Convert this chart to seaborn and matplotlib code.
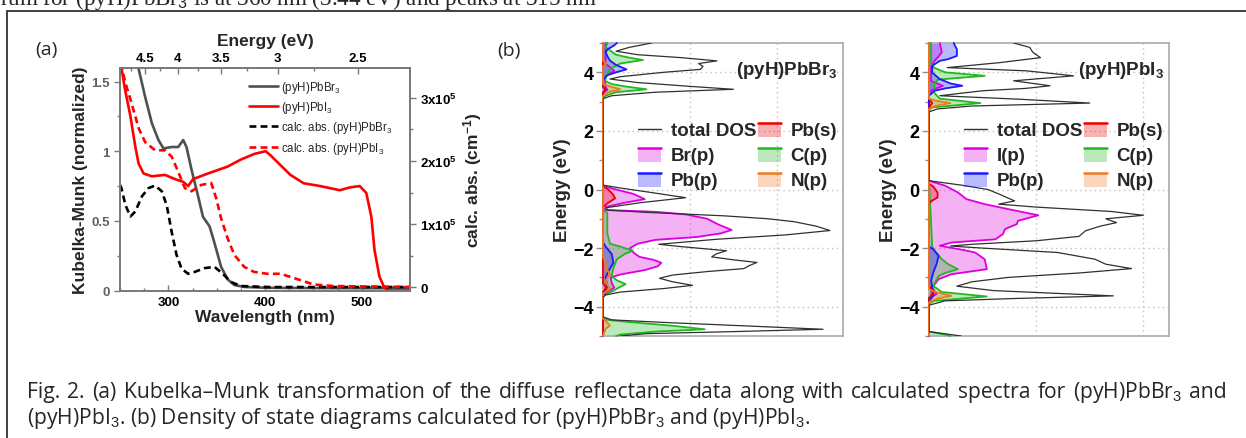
import matplotlib
matplotlib.use("Agg")
import matplotlib.pyplot as plt
import seaborn as sns
from matplotlib.lines import Line2D
from matplotlib.patches import Patch, Rectangle
from matplotlib.legend_handler import HandlerBase
from matplotlib.ticker import MultipleLocator, FixedLocator

# ---------------- panel (a) data ----------------
km_wl_br = [264, 269.3, 276, 283, 289.8, 294.9, 303.4, 310.2, 315.4, 318.8, 323.9, 330.7, 335.8,
            342.7, 347.8, 354.6, 361.4, 368.3, 378.5, 402, 450, 500, 549]
km_br = [1.75, 1.59, 1.39, 1.20, 1.08, 1.02, 1.03, 1.03, 1.08, 1.03, 0.87, 0.68, 0.53,
         0.46, 0.34, 0.17, 0.08, 0.04, 0.026, 0.02, 0.018, 0.017, 0.017]

km_wl_i = [250, 251.5, 255, 260.8, 265.9, 269.3, 274.4, 283, 296.6, 306.8, 315.4, 320.5, 325.6,
           341, 361.4, 375, 388.7, 400.6, 405.8, 416, 426.3, 440, 457, 477.5, 487.7, 498,
           504.8, 510, 513.3, 518.4, 523.5, 528.7, 549]
km_i = [1.65, 1.6, 1.45, 1.25, 1.03, 0.91, 0.84, 0.82, 0.83, 0.80, 0.78, 0.75, 0.80,
        0.84, 0.89, 0.94, 0.98, 1.0, 0.97, 0.90, 0.83, 0.77, 0.75, 0.72, 0.74, 0.75,
        0.70, 0.53, 0.29, 0.10, 0.02, 0.0, 0.0]

calc_wl_br = [250, 251.5, 255.6, 260.8, 265.9, 272.7, 279.5, 286.3, 293.2, 298.3, 303.4, 308.5,
              313.7, 320.5, 327.3, 337.5, 347.8, 356.3, 364.8, 375, 402, 549]
calc_br = [1.62e5, 1.57e5, 1.30e5, 1.12e5, 1.20e5, 1.44e5, 1.57e5, 1.61e5, 1.52e5, 1.30e5, 0.88e5,
           0.51e5, 0.29e5, 0.21e5, 0.24e5, 0.30e5, 0.32e5, 0.21e5, 0.08e5, 0.016e5, 0, 0]

calc_wl_i = [250, 252.2, 255.6, 262.5, 269.3, 276, 286.3, 296.6, 303.4, 310.2, 317.1, 324, 334,
             344.4, 349.5, 354.6, 361.4, 368.3, 378.5, 388.7, 402.4, 416, 426.3, 436.5, 450.2,
             470.6, 549]
calc_i = [3.55e5, 3.46e5, 3.24e5, 2.89e5, 2.52e5, 2.30e5, 2.17e5, 2.17e5, 2.07e5, 1.83e5, 1.57e5,
          1.52e5, 1.62e5, 1.65e5, 1.41e5, 1.09e5, 0.77e5, 0.51e5, 0.32e5, 0.24e5, 0.21e5, 0.21e5,
          0.16e5, 0.11e5, 0.04e5, 0.016e5, 0]

top_ev = [4.5, 4.0, 3.5, 3.0, 2.5]
top_ev_labels = ["4.5", "4", "3.5", "3", "2.5"]
top_ev_minor = [4.75, 4.25, 3.75, 3.25, 2.75, 2.25]
right_ticks = [0, 1e5, 2e5, 3e5]
right_labels = ["0", r"1x10$^{\mathbf{5}}$", r"2x10$^{\mathbf{5}}$", r"3x10$^{\mathbf{5}}$"]
legend_a = [r"(pyH)PbBr$_3$", r"(pyH)PbI$_3$", r"calc. abs. (pyH)PbBr$_3$", r"calc. abs. (pyH)PbI$_3$"]

# ---------------- panel (b) data: (pyH)PbBr3 DOS ----------------
br_tot_E = [5.0, 4.85, 4.72, 4.6, 4.5, 4.39, 4.3, 4.2, 4.1, 4.0, 3.85, 3.77, 3.65, 3.52, 3.42, 3.32,
            3.2, 3.1, 0.15, 0.05, -0.1, -0.28, -0.45, -0.62, -0.7, -0.78, -0.9, -1.0, -1.1, -1.25,
            -1.4, -1.55, -1.7, -1.87, -1.95, -2.09, -2.2, -2.3, -2.4, -2.49, -2.6, -2.7, -2.8,
            -2.92, -3.03, -3.15, -3.27, -3.38, -3.5, -3.6, -3.68, -4.35, -4.45, -4.55, -4.65,
            -4.77, -4.85, -4.92, -5.0]
br_tot = [5.6, 3.0, 1.5, 4.0, 9.0, 13.1, 11.0, 11.5, 11.2, 7.0, 2.0, 0.8, 4.0, 10.0, 15.0, 6.0,
          1.0, 0.0, 0.0, 2.0, 5.5, 9.5, 4.3, 0.4, 0.5, 5.0, 14.0, 19.0, 22.0, 24.5,
          26.1, 21.0, 13.0, 6.4, 9.0, 14.2, 13.0, 12.5, 15.0, 17.7, 16.8, 16.2, 12.0,
          8.0, 6.5, 8.0, 10.3, 7.0, 2.0, 0.3, 0.0, 0.0, 1.0, 8.0, 16.0,
          25.3, 15.0, 5.0, 2.0]
br_x_E = [5.0, 4.3, 4.2, 4.05, 3.9, 3.8, 3.5, 3.4, 3.3, 0.12, 0.0, -0.15, -0.33, -0.45, -0.6,
          -0.7, -0.76, -0.85, -1.0, -1.2, -1.38, -1.5, -1.62, -1.72, -1.85, -2.0, -2.15, -2.3,
          -2.4, -2.5, -2.62, -2.75, -2.9, -3.0, -3.2, -3.35, -3.5, -3.62, -5.0]
br_x = [0.3, 0.3, 0.7, 1.3, 0.5, 0.2, 0.3, 0.5, 0.0, 0.0, 1.5, 3.5, 4.8, 2.5, 0.3,
        0.2, 6.0, 9.5, 12.0, 13.3, 14.8, 13.5, 10.8, 6.0, 4.0, 3.1, 3.5, 4.2,
        5.8, 6.7, 6.3, 4.8, 2.0, 0.9, 1.0, 1.3, 0.5, 0.0, 0.0]
br_pbs_E = [5.0, 3.5, 3.42, 3.3, 0.12, 0.0, -0.15, -0.3, -0.45, -0.6, -3.2, -3.35, -3.5, -5.0]
br_pbs = [0.0, 0.0, 0.3, 0.0, 0.0, 0.6, 1.1, 1.4, 0.6, 0.0, 0.0, 0.4, 0.0, 0.0]
br_c_E = [5.0, 4.85, 4.75, 4.6, 4.5, 4.42, 4.3, 4.15, 4.0, 3.85, 3.7, 3.6, 3.52, 3.42, 3.32, 3.2,
          3.1, 0.1, -0.7, -0.8, -1.5, -1.85, -1.95, -2.09, -2.2, -2.38, -2.6, -2.8, -2.95, -3.1,
          -3.23, -3.35, -3.46, -3.62, -4.35, -4.45, -4.55, -4.65, -4.77, -4.85, -4.95, -5.0]
br_c = [0.5, 0.3, 0.8, 1.5, 3.0, 4.6, 2.0, 1.0, 0.6, 0.3, 0.3, 1.0, 2.5, 5.0, 1.5, 0.3,
        0.0, 0.0, 0.0, 0.5, 0.5, 0.8, 2.0, 3.4, 2.5, 1.6, 1.3, 1.1, 1.0, 1.6,
        2.6, 1.8, 1.2, 0.0, 0.0, 0.5, 4.0, 8.0, 11.7, 6.0, 2.0, 1.5]
br_pbp_E = [5.0, 4.9, 4.8, 4.7, 4.55, 4.4, 4.25, 4.1, 4.0, 3.9, 3.75, 3.5, 3.4, 3.3, -1.8, -1.95,
            -2.2, -2.5, -2.8, -3.0, -3.3, -3.5, -3.65, -5.0]
br_pbp = [1.6, 1.2, 0.6, 0.3, 0.5, 0.8, 1.5, 2.7, 1.5, 0.5, 0.0, 0.0, 0.3, 0.0, 0.0, 0.3,
          1.0, 1.2, 0.6, 0.3, 0.5, 0.2, 0.0, 0.0]
br_n_E = [5.0, 4.4, 4.3, 4.2, 3.6, 3.52, 3.42, 3.32, 3.2, -2.3, -2.5, -2.7, -2.9, -3.1, -3.25,
          -3.4, -3.55, -4.4, -4.55, -4.65, -4.75, -5.0]
br_n = [0.0, 0.0, 0.4, 0.0, 0.0, 0.8, 2.0, 0.6, 0.0, 0.0, 0.3, 0.4, 0.8, 0.3, 0.5,
        0.8, 0.0, 0.0, 0.5, 0.8, 0.3, 0.0]

# ---------------- panel (b) data: (pyH)PbI3 DOS ----------------
i_tot_E = [5.0, 4.85, 4.68, 4.5, 4.33, 4.16, 4.05, 3.88, 3.71, 3.54, 3.45, 3.37, 3.2, 3.08, 2.95,
           2.85, 2.75, 2.65, 0.3, 0.15, 0.0, -0.15, -0.39, -0.5, -0.6, -0.75, -0.88, -1.0, -1.13,
           -1.25, -1.41, -1.6, -1.75, -1.87, -1.93, -2.0, -2.15, -2.38, -2.55, -2.7, -2.85, -3.0,
           -3.15, -3.3, -3.45, -3.63, -3.72, -3.8, -3.95, -4.85, -5.0]
i_tot = [7.9, 9.4, 9.7, 10.4, 6.6, 1.7, 9.1, 13.5, 7.9, 11.3, 9.0, 5.0, 1.0, 8.5, 15.0,
         4.0, 0.8, 0.0, 0.0, 3.0, 5.5, 6.5, 8.0, 6.5, 10.0, 17.0, 20.0, 16.5, 17.5,
         16.0, 14.6, 14.0, 10.0, 4.0, 2.0, 5.0, 12.0, 15.5, 16.5, 18.9, 14.0, 7.4,
         4.0, 2.6, 6.0, 17.2, 8.0, 1.5, 0.0, 0.0, 3.0]
i_x_E = [5.0, 4.85, 4.68, 4.5, 4.39, 4.2, 3.7, 3.54, 3.4, 3.3, 0.3, 0.13, -0.1, -0.33, -0.5,
         -0.67, -0.88, -1.07, -1.18, -1.35, -1.52, -1.7, -1.81, -1.92, -2.05, -2.15, -2.38,
         -2.55, -2.72, -2.89, -3.06, -3.34, -3.57, -3.7, -5.0]
i_x = [1.0, 1.1, 1.2, 0.8, 0.5, 0.2, 0.2, 1.3, 0.3, 0.0, 0.0, 1.5, 2.7, 3.5, 5.2,
       7.4, 10.2, 8.3, 8.2, 7.1, 6.9, 6.2, 2.1, 1.0, 3.0, 4.3, 5.2,
       5.3, 5.4, 2.1, 0.9, 0.3, 0.7, 0.0, 0.0]
i_pbs_E = [5.0, 3.1, 2.95, 2.8, 0.2, 0.1, -0.1, -0.27, -0.4, -0.5, -3.3, -3.5, -3.7, -5.0]
i_pbs = [0.0, 0.0, 0.3, 0.0, 0.0, 0.4, 0.8, 0.8, 0.2, 0.0, 0.0, 0.5, 0.0, 0.0]
i_c_E = [5.0, 4.3, 4.15, 4.0, 3.88, 3.75, 3.6, 3.3, 3.1, 2.95, 2.8, 2.7, 0.3, -1.95, -2.09, -2.38,
         -2.55, -2.72, -2.85, -2.95, -3.29, -3.5, -3.65, -3.8, -3.9, -4.85, -4.95, -5.0]
i_c = [0.2, 0.2, 0.5, 1.5, 5.2, 0.8, 0.5, 0.5, 1.0, 4.8, 0.3, 0.0, 0.0, 0.3, 0.5, 1.2,
       1.8, 2.7, 1.5, 0.9, 0.4, 1.2, 5.4, 0.5, 0.0, 0.0, 1.5, 2.0]
i_pbp_E = [5.0, 4.79, 4.56, 4.45, 4.39, 4.22, 3.99, 3.77, 3.62, 3.54, 3.45, 3.37, 3.2, -1.95,
           -2.04, -2.26, -2.55, -2.83, -3.1, -3.63, -3.8, -5.0]
i_pbp = [2.3, 2.6, 2.6, 1.8, 1.0, 0.3, 0.3, 1.0, 2.0, 3.1, 1.5, 0.5, 0.0, 0.0,
         0.4, 0.9, 0.7, 0.4, 0.2, 0.4, 0.0, 0.0]
i_n_E = [5.0, 3.1, 3.02, 2.95, 2.85, 2.75, -3.4, -3.5, -3.63, -3.72, -3.85, -5.0]
i_n = [0.0, 0.0, 0.8, 2.0, 0.6, 0.0, 0.0, 0.6, 2.1, 0.8, 0.0, 0.0]

dos_ticks = [-4, -2, 0, 2, 4]

caption_1 = (r"Fig. 2. (a) Kubelka–Munk transformation of the diffuse reflectance data along with "
             r"calculated spectra for (pyH)PbBr$_3$ and")
caption_2 = r"(pyH)PbI$_3$. (b) Density of state diagrams calculated for (pyH)PbBr$_3$ and (pyH)PbI$_3$."
top_text = r"rum for (pyH)PbBr$_3$ is at 360 nm (3.44 eV) and peaks at 315 nm"

# ---------------- style ----------------
sns.set_style("ticks")
plt.rcParams["font.family"] = ["Liberation Sans", "DejaVu Sans"]
plt.rcParams["mathtext.fontset"] = "custom"
plt.rcParams["mathtext.rm"] = "Liberation Sans"
plt.rcParams["mathtext.it"] = "Liberation Sans:italic"
plt.rcParams["mathtext.bf"] = "Liberation Sans:bold"

W, H = 1246, 439
fig = plt.figure(figsize=(W / 100, H / 100), dpi=100)
renderer = fig.canvas.get_renderer()


def fx(p):
    return p / W


def fy(p):
    return 1 - p / H


SP = "#7a7a7a"

# ---------------- panel (a) ----------------
ax = fig.add_axes([fx(120), fy(292), 290 / W, 223 / H])
ax2 = ax.twinx()
GRAY = "#505050"
RED = "#ff0000"
sns.lineplot(x=km_wl_br, y=km_br, ax=ax, color=GRAY, lw=1.9, estimator=None)
sns.lineplot(x=km_wl_i, y=km_i, ax=ax, color=RED, lw=1.9, estimator=None)
sns.lineplot(x=calc_wl_br, y=calc_br, ax=ax2, color="black", lw=1.9, estimator=None)
sns.lineplot(x=calc_wl_i, y=calc_i, ax=ax2, color=RED, lw=1.9, estimator=None)
for ln in ax2.get_lines():
    ln.set_dashes((2.6, 1.6))

ax.set_xlim(250, 550)
ax.set_ylim(-0.003, 1.597)
ax2.set_ylim(-6300, 347600)
ax.set_xticks([300, 400, 500])
ax.xaxis.set_minor_locator(MultipleLocator(25))
ax.set_yticks([0, 0.5, 1, 1.5])
ax.set_yticklabels(["0", "0.5", "1", "1.5"])
ax.yaxis.set_minor_locator(MultipleLocator(0.25))
ax2.set_yticks(right_ticks)
ax2.set_yticklabels(right_labels)
ax2.yaxis.set_minor_locator(MultipleLocator(0.5e5))

for a in (ax, ax2):
    for s in a.spines.values():
        s.set_color(SP)
        s.set_linewidth(1.1)
ax.tick_params(axis="x", which="both", direction="in", colors=SP, labelcolor="black",
               labelsize=9.5, top=False, length=4, width=1)
ax.tick_params(axis="x", which="minor", length=2.5)
ax.tick_params(axis="y", which="both", direction="out", colors=SP, labelcolor="#606060",
               labelsize=9.5, length=4, width=1)
ax.tick_params(axis="y", which="minor", length=2.5)
ax2.tick_params(axis="y", which="both", direction="out", colors=SP, labelcolor="black",
                labelsize=9.5, length=4, width=1)
ax2.tick_params(axis="y", which="minor", length=2.5)
for lab in ax.get_xticklabels() + ax.get_yticklabels() + ax2.get_yticklabels():
    lab.set_fontweight("bold")

ax.set_xlabel("Wavelength (nm)", fontsize=12.5, fontweight="bold", labelpad=1)
ax.set_ylabel("Kubelka-Munk (normalized)", fontsize=12.5, fontweight="bold", labelpad=2)
ax2.set_ylabel(r"calc. abs. (cm$^{\mathbf{-1}}$)", fontsize=12.5, fontweight="bold", labelpad=3)

ax3 = ax.twiny()
ax3.set_xlim(ax.get_xlim())
ax3.xaxis.set_major_locator(FixedLocator([1240.0 / e for e in top_ev]))
ax3.set_xticklabels(top_ev_labels)
ax3.xaxis.set_minor_locator(FixedLocator([1240.0 / e for e in top_ev_minor]))
ax3.tick_params(axis="x", which="both", direction="in", colors=SP, labelcolor="black",
                labelsize=9.5, length=4, width=1, pad=3)
ax3.tick_params(axis="x", which="minor", length=2.5)
for lab in ax3.get_xticklabels():
    lab.set_fontweight("bold")
for s in ax3.spines.values():
    s.set_color(SP)
    s.set_linewidth(1.1)
ax3.set_xlabel("Energy (eV)", fontsize=12.5, fontweight="bold", labelpad=5)

h_a = [Line2D([], [], color=GRAY, lw=1.9), Line2D([], [], color=RED, lw=1.9),
       Line2D([], [], color="black", lw=1.9, dashes=(2.6, 1.6)),
       Line2D([], [], color=RED, lw=1.9, dashes=(2.6, 1.6))]
ax2.legend(h_a, legend_a, loc="upper left", bbox_to_anchor=(0.445, 0.95), frameon=False,
           fontsize=8.3, handlelength=2.5, handletextpad=0.25, labelspacing=0.36,
           borderpad=0, borderaxespad=0)

# ---------------- panel (b) ----------------
C_X = "#dd00dd"
C_PBS = "#ee0000"
C_C = "#22b822"
C_PBP = "#1a1aff"
C_N = "#ee7a22"


class FillLine(HandlerBase):
    def create_artists(self, legend, orig, xd, yd, w, h, fs, trans):
        ec = orig.get_edgecolor()
        fc = orig.get_facecolor()
        r = Rectangle((-xd, -yd - 0.15 * h), w, h * 1.1, facecolor=fc, edgecolor="none",
                      transform=trans)
        ln = Line2D([-xd, -xd + w], [-yd + 0.95 * h] * 2, color=ec, lw=1.8, transform=trans)
        return [r, ln]


def dos_panel(left_px, xmax, curves, xname, title):
    a = fig.add_axes([fx(left_px), fy(337), 240 / W, 293 / H])
    tot_E, tot = curves[0]
    for (E, V, col) in curves[1:]:
        a.fill_betweenx(E, 0, V, color=col, alpha=0.3, lw=0, zorder=2)
    for (E, V, col) in curves[1:]:
        sns.lineplot(x=V, y=E, orient="y", ax=a, color=col, lw=1.3, estimator=None,
                     clip_on=False, zorder=3)
    sns.lineplot(x=tot, y=tot_E, orient="y", ax=a, color="#303030", lw=0.9, estimator=None,
                 zorder=3)
    a.set_xlim(0, xmax)
    a.set_ylim(-5, 5)
    a.set_yticks(dos_ticks)
    a.yaxis.set_minor_locator(MultipleLocator(1))
    a.set_xticks([10, 20])
    a.tick_params(axis="x", length=0, labelbottom=False)
    a.tick_params(axis="y", which="both", direction="out", colors="#909090", labelcolor="black",
                  labelsize=13, length=5, width=1, pad=2)
    a.tick_params(axis="y", which="minor", length=3)
    for lab in a.get_yticklabels():
        lab.set_fontweight("bold")
    a.grid(True, ls=(0, (1, 2.5)), color="#c0c0c0", lw=1.0)
    for s in a.spines.values():
        s.set_color("#b0b0b0")
        s.set_linewidth(1.3)
    a.set_xlabel("")
    a.set_ylabel("Energy (eV)", fontsize=13.5, fontweight="bold")
    a.yaxis.set_label_coords(-0.135, 0.5)
    a.text(0.98, 0.91, title, transform=a.transAxes, ha="right", va="center",
           fontsize=13.5, fontweight="bold")
    handles = [Line2D([], [], color="#303030", lw=1.0),
               Patch(facecolor=C_X, edgecolor=C_X),
               Patch(facecolor=C_PBP, edgecolor=C_PBP),
               Patch(facecolor=C_PBS, edgecolor=C_PBS),
               Patch(facecolor=C_C, edgecolor=C_C),
               Patch(facecolor=C_N, edgecolor=C_N)]
    for hd in handles[1:]:
        hd.set_facecolor(matplotlib.colors.to_rgba(hd.get_edgecolor(), 0.3))
    labels = ["total DOS", xname, "Pb(p)", "Pb(s)", "C(p)", "N(p)"]
    a.legend(handles, labels, ncol=2, loc="upper left", bbox_to_anchor=(0.145, 0.73),
             frameon=False, handlelength=1.25, handletextpad=0.5,
             columnspacing=0.1, labelspacing=0.42, borderpad=0, borderaxespad=0,
             handler_map={Patch: FillLine()}, prop={"weight": "bold", "size": 13.5})
    return a


dos_panel(603, 27.6,
          [(br_tot_E, br_tot), (br_x_E, br_x, C_X), (br_c_E, br_c, C_C), (br_pbp_E, br_pbp, C_PBP),
           (br_pbs_E, br_pbs, C_PBS), (br_n_E, br_n, C_N)],
          "Br(p)", r"(pyH)PbBr$_\mathbf{3}$")
dos_panel(929, 22.4,
          [(i_tot_E, i_tot), (i_x_E, i_x, C_X), (i_c_E, i_c, C_C), (i_pbp_E, i_pbp, C_PBP),
           (i_pbs_E, i_pbs, C_PBS), (i_n_E, i_n, C_N)],
          "I(p)", r"(pyH)PbI$_\mathbf{3}$")

# ---------------- page decorations ----------------
CAP_FONT = ["Open Sans", "DejaVu Sans"]
fig.text(fx(35), fy(50), "(a)", fontsize=14, family=CAP_FONT, va="center")
fig.text(fx(497), fy(51), "(b)", fontsize=14, family=CAP_FONT, va="center")

# caption line 2 sized to its printed width, line 1 justified to the full measure
cap2 = fig.text(fx(27), fy(424), caption_2, fontsize=13, family=CAP_FONT, va="baseline")
w2 = cap2.get_window_extent(renderer).width
cap_size = 13 * (781.0 / w2)
cap2.set_fontsize(cap_size)

words = caption_1.split(" ")
wtexts = [fig.text(0, fy(398), wd, fontsize=cap_size, family=CAP_FONT, va="baseline")
          for wd in words]
wwid = [t.get_window_extent(renderer).width for t in wtexts]
gap = (1227.0 - 27.0 - sum(wwid)) / (len(words) - 1)
xpos = 27.0
for t, wd in zip(wtexts, wwid):
    t.set_x(fx(xpos))
    xpos += wd + gap

tt = fig.text(fx(0), fy(5), top_text, fontsize=15, family=["Liberation Serif", "DejaVu Serif"],
              va="baseline")
wt = tt.get_window_extent(renderer).width
tt.set_fontsize(15 * 598.0 / wt)

fig.add_artist(Line2D([fx(7), 1.0], [fy(12), fy(12)], color="#404040", lw=1.4))
fig.add_artist(Line2D([fx(7), fx(7)], [fy(12), 0.0], color="#404040", lw=1.4))

fig.savefig("out.png", dpi=100)
